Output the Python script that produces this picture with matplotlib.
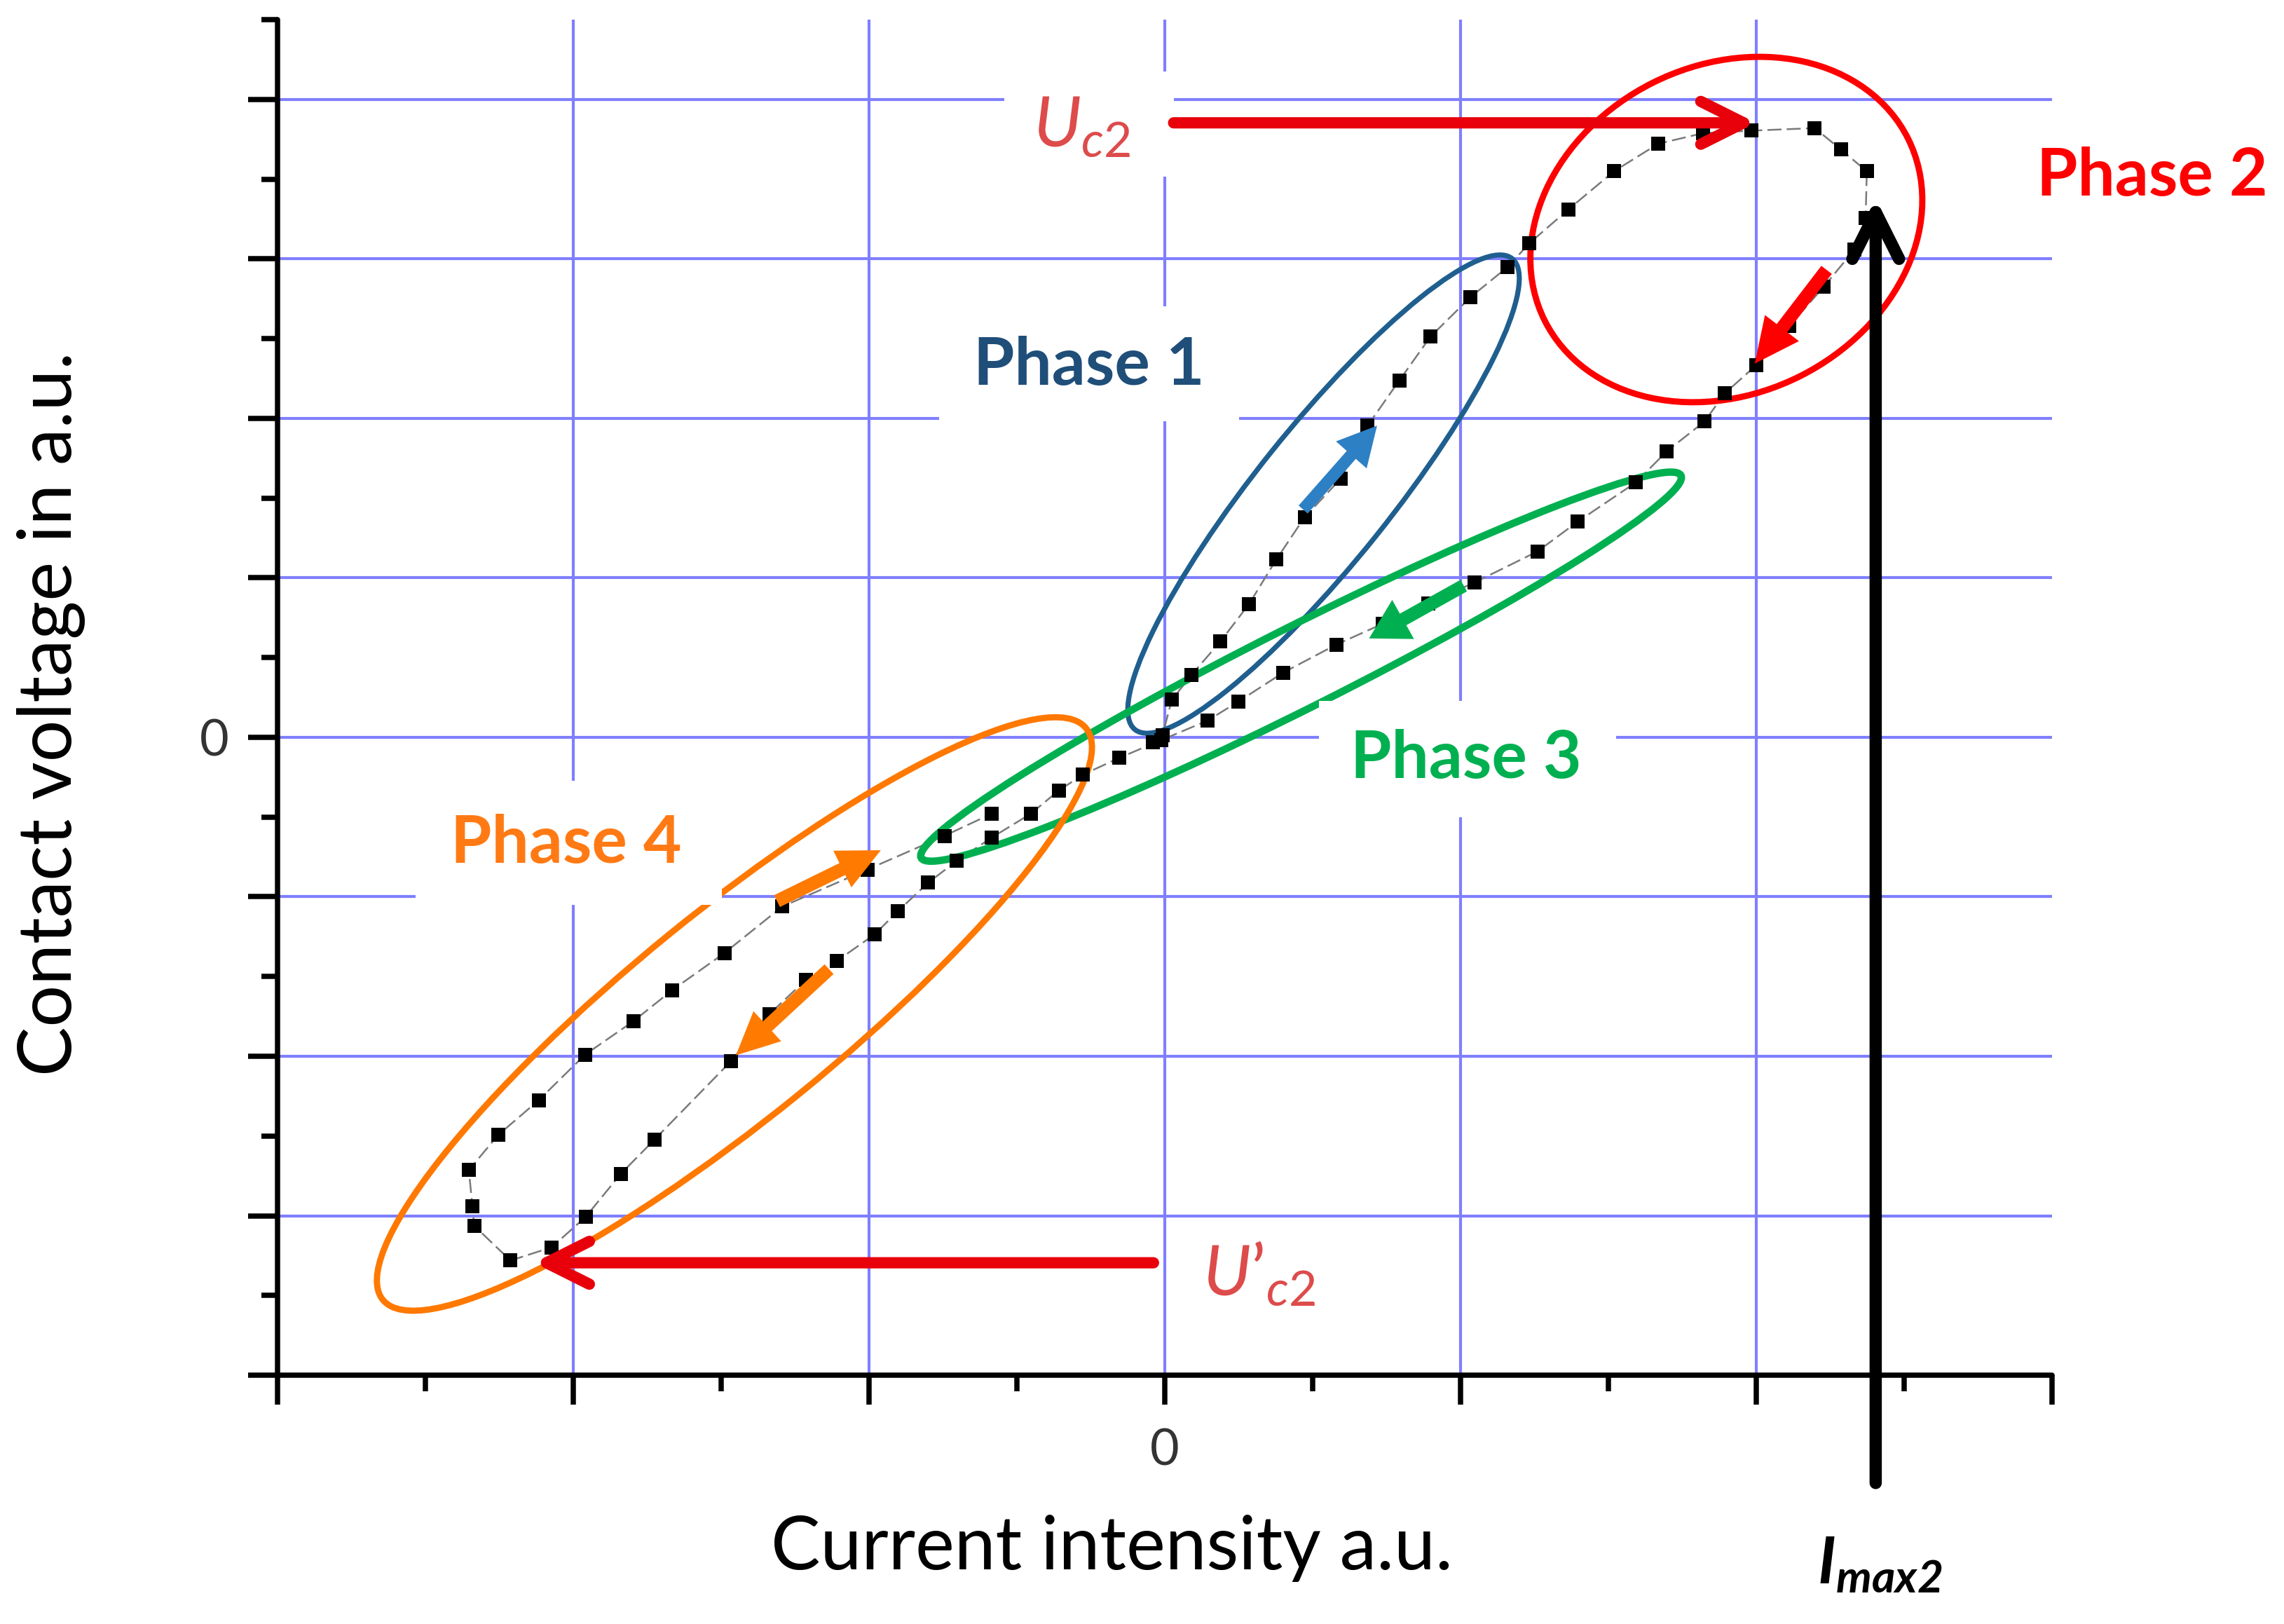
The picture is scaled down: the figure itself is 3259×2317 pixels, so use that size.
import numpy as np
import matplotlib.pyplot as plt
from matplotlib.patches import Ellipse, Rectangle, FancyArrowPatch
from matplotlib.transforms import Affine2D

plt.rcParams['font.family'] = ['Lato', 'DejaVu Sans']
plt.rcParams['mathtext.fontset'] = 'custom'
plt.rcParams['mathtext.rm'] = 'Lato'
plt.rcParams['mathtext.it'] = 'Lato:italic'
plt.rcParams['mathtext.bf'] = 'Lato:italic:bold'

# measured loop, read off the picture (a.u.)
# phase 1: rising branch from the origin
current_rise = [-0.04, -0.008, 0.024, 0.09, 0.188, 0.285, 0.378, 0.473, 0.596, 0.686, 0.793, 0.899, 1.034, 1.16]
voltage_rise = [-0.03, 0.011, 0.235, 0.39, 0.60, 0.835, 1.117, 1.38, 1.623, 1.954, 2.237, 2.513, 2.76, 2.95]

# phase 2: around the maximum
current_peak = [1.233, 1.365, 1.519, 1.669, 1.82, 1.984, 2.198, 2.286, 2.374, 2.37, 2.333,
                2.228, 2.111, 2.0, 1.894, 1.825, 1.698, 1.593, 1.397]
voltage_peak = [3.098, 3.31, 3.549, 3.722, 3.788, 3.804, 3.82, 3.686, 3.549, 3.255, 3.06,
                2.824, 2.578, 2.333, 2.157, 1.98, 1.794, 1.598, 1.353]

# phase 3: falling branch through zero
current_fall = [1.261, 1.048, 0.892, 0.736, 0.58, 0.401, 0.25, 0.145, -0.012, -0.155, -0.276, -0.358]
voltage_fall = [1.166, 0.971, 0.841, 0.711, 0.581, 0.406, 0.225, 0.105, -0.018, -0.13, -0.234, -0.333]

# phase 4: negative half
current_neg = [-0.452, -0.585, -0.704, -0.80, -0.902, -0.981, -1.11, -1.214, -1.337, -1.466, -1.725,
               -1.839, -1.958, -2.073, -2.212, -2.335, -2.341, -2.353, -2.254, -2.117, -1.96,
               -1.797, -1.665, -1.489, -1.293, -1.005, -0.745, -0.585]
voltage_neg = [-0.478, -0.629, -0.776, -0.912, -1.09, -1.236, -1.404, -1.522, -1.736, -2.03, -2.522,
               -2.737, -3.007, -3.198, -3.281, -3.063, -2.939, -2.714, -2.494, -2.276, -1.99,
               -1.781, -1.585, -1.353, -1.061, -0.829, -0.618, -0.479]

current = np.concatenate([current_rise, current_peak, current_fall, current_neg])
voltage = np.concatenate([voltage_rise, voltage_peak, voltage_fall, voltage_neg])

imax2 = 2.404
uc2 = 3.853
uc2_neg = -3.295

grid_x = [-2, -1, 0, 1, 2]
grid_y = [-3, -2, -1, 0, 1, 2, 3, 4]

# phase ellipses: centre (data), semi axes (in x units on screen), angle on screen
ell_centre = [(0.537, 1.525), (1.899, 3.184), (0.461, 0.443), (-1.455, -1.735)]
ell_axes = [(1.02, 0.227), (0.687, 0.555), (1.438, 0.138), (1.532, 0.348)]
ell_angle = [51.3, 26.6, 26.7, 39.1]
ell_color = ['#1f5f8f', '#ff0000', '#00b050', '#ff7800']
ell_lw = [2.6, 3.2, 3.8, 3.2]

fig = plt.figure(figsize=(3259 / 200, 2317 / 200), dpi=200)
ax = fig.add_axes([0.1215, 0.1532, 0.7769, 0.8347])
ax.set_xlim(-3, 3)
ax.set_ylim(-4, 4.5)

for s in ['top', 'right']:
    ax.spines[s].set_visible(False)
for s in ['left', 'bottom']:
    ax.spines[s].set_linewidth(2.7)
    ax.spines[s].set_capstyle('round')

ax.set_xticks(range(-3, 4))
ax.set_xticklabels(['0' if t == 0 else '' for t in range(-3, 4)])
ax.set_xticks(np.arange(-2.5, 3, 1), minor=True)
ax.set_yticks(range(-4, 5))
ax.set_yticklabels(['0' if t == 0 else '' for t in range(-4, 5)])
ax.set_yticks(np.arange(-3.5, 4.6, 1), minor=True)
ax.tick_params(which='major', direction='out', length=15, width=2.7, labelsize=26,
               labelcolor='#333333')
ax.tick_params(which='minor', direction='out', length=8.3, width=2.7)
ax.tick_params(axis='x', which='major', pad=12)
ax.tick_params(axis='y', which='major', pad=10)

for gx in grid_x:
    ax.axvline(gx, color='#7f7fff', lw=1.5, zorder=0.5)
for gy in grid_y:
    ax.axhline(gy, color='#7f7fff', lw=1.5, zorder=0.5)

ax.plot(current, voltage, color='#7a7a7a', lw=0.9, ls=(0, (8, 3)), zorder=3)
ax.plot(current, voltage, ls='none', marker='s', ms=7, mew=0, color='black', zorder=4)

# ellipses drawn in a frame where both units have the same length on screen
fig.canvas.draw()
bb = ax.get_window_extent()
k = (bb.height / 8.5) / (bb.width / 6.0)
etrans = Affine2D().scale(1, 1 / k) + ax.transData
for c, (a, b), ang, col, lw in zip(ell_centre, ell_axes, ell_angle, ell_color, ell_lw):
    e = Ellipse((c[0], c[1] * k), 2 * a, 2 * b, angle=ang, fill=False, edgecolor=col,
                lw=lw, transform=etrans, zorder=3.5)
    ax.add_patch(e)

# white label boxes (cut the grid)
boxes = [(-0.764, 1.983, 1.015, 0.721), (-0.542, 3.517, 0.572, 0.658),
         (0.522, -0.503, 1.005, 0.731), (-2.532, -1.051, 1.034, 0.777)]
for x0, y0, w, h in boxes:
    ax.add_patch(Rectangle((x0, y0), w, h, facecolor='white', edgecolor='none', zorder=5))

ax.text(-0.256, 2.33, 'Phase 1', color='#1f4e79', fontsize=34, fontweight='bold',
        ha='center', va='center', zorder=6)
ax.text(3.34, 3.517, 'Phase 2', color='#ff0000', fontsize=34, fontweight='bold',
        ha='center', va='center', zorder=6)
ax.text(1.02, -0.137, 'Phase 3', color='#00b050', fontsize=34, fontweight='bold',
        ha='center', va='center', zorder=6)
ax.text(-2.025, -0.667, 'Phase 4', color='#ff7a14', fontsize=34, fontweight='bold',
        ha='center', va='center', zorder=6)

ax.text(-0.28, 3.83, r'$\mathit{U}_{\mathit{c2}}$', color='#dd4b4b', fontsize=36,
        ha='center', va='center', zorder=6)
ax.text(0.32, -3.36, r'$\mathit{U’}_{\mathit{c2}}$', color='#dd4b4b', fontsize=36,
        ha='center', va='center', zorder=6)
ax.text(imax2 + 0.015, -5.19, r'$\mathbf{I}_{\mathbf{max2}}$', color='black', fontsize=33,
        ha='center', va='center', zorder=6)


def line_arrow(p0, p1, col, lw, hl, hw):
    a = FancyArrowPatch(p0, p1, arrowstyle=f'->,head_length={hl},head_width={hw}',
                        mutation_scale=1, color=col, lw=lw, shrinkA=0, shrinkB=0,
                        capstyle='round', joinstyle='round', zorder=7, clip_on=False)
    ax.add_patch(a)


def block_arrow(p0, p1, col, tw=6, hw=21, hl=20):
    a = FancyArrowPatch(p0, p1, arrowstyle=f'simple,head_length={hl},head_width={hw},tail_width={tw}',
                        mutation_scale=1, color=col, lw=0, shrinkA=0, shrinkB=0, zorder=7)
    ax.add_patch(a)


line_arrow((0.03, uc2), (2.0, uc2), '#e8000b', 5.8, 22, 11)
line_arrow((-0.038, uc2_neg), (-2.133, uc2_neg), '#e8000b', 5.8, 22, 11)
line_arrow((imax2, -4.676), (imax2, 3.379), 'black', 6.3, 24, 12)

block_arrow((0.468, 1.428), (0.718, 1.954), '#2e80c4', tw=6.2)
block_arrow((2.238, 2.931), (1.995, 2.343), '#ff0000', tw=6.8, hw=22, hl=23)
block_arrow((1.011, 0.951), (0.691, 0.62), '#00b050', tw=6.8, hw=23, hl=20)
block_arrow((-1.311, -1.027), (-0.96, -0.708), '#ff7a00', tw=6.8, hw=21, hl=22)
block_arrow((-1.135, -1.454), (-1.45, -1.994), '#ff7a00', tw=6.8, hw=21, hl=22)

fig.text(0.4867, 0.0466, 'Current intensity a.u.', fontsize=38, ha='center', va='center')
fig.text(0.0223, 0.5604, 'Contact voltage in a.u.', fontsize=38, ha='center', va='center',
         rotation=90)

fig.savefig('out.png', dpi=200, facecolor='white')
